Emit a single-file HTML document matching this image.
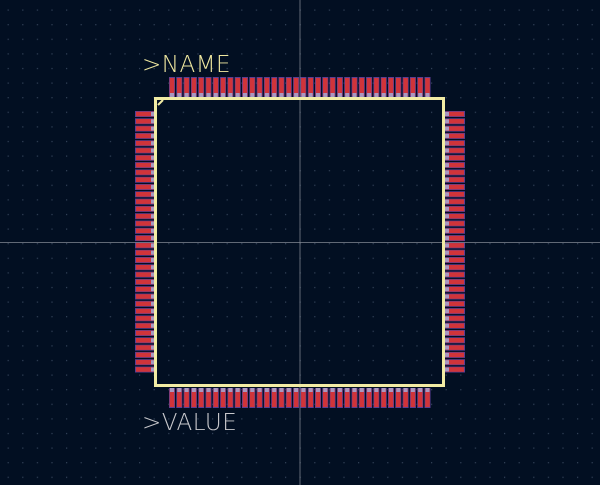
<!DOCTYPE html>
<html><head><meta charset="utf-8"><style>
html,body{margin:0;padding:0;background:#020f22;}
svg{display:block;}
</style></head><body>
<svg id="fp" width="600" height="485" viewBox="0 0 600 485" xmlns="http://www.w3.org/2000/svg">
<defs>
<pattern id="grid" x="-7" y="9.5" width="14.6" height="14.6" patternUnits="userSpaceOnUse">
<rect x="0" y="0" width="1.2" height="1.2" fill="#34435a"/>
</pattern>
</defs>
<rect width="600" height="485" fill="#020f22"/>
<rect width="600" height="485" fill="url(#grid)"/>
<g id="pads"></g>
<line x1="300" y1="0" x2="300" y2="485" stroke="#8a909a" stroke-width="1" opacity="0.7"/>
<line x1="0" y1="242.5" x2="600" y2="242.5" stroke="#8a909a" stroke-width="1" opacity="0.7"/>
<rect x="155.5" y="98.5" width="288" height="287" fill="none" stroke="#f2eca4" stroke-width="3"/>
<path d="M158 105 L163 100" stroke="#f2eca4" stroke-width="2"/>
<text x="142" y="72" font-family="'DejaVu Sans','Liberation Sans',sans-serif" font-size="23" font-weight="200" fill="#f0e8a0" letter-spacing="0.5">&gt;NAME</text>
<text x="142" y="430" font-family="'DejaVu Sans','Liberation Sans',sans-serif" font-size="23" font-weight="200" fill="#c8c8cc" letter-spacing="0.5">&gt;VALUE</text>
</svg>
<script>
const pads = [
  {side:'top', count:36, start:169, pitch:7.3, a:77, b:97},
  {side:'bottom', count:36, start:169, pitch:7.3, a:388, b:408},
  {side:'left', count:36, start:111, pitch:7.3, a:135, b:155},
  {side:'right', count:36, start:111, pitch:7.3, a:445, b:465}
];
const NS='http://www.w3.org/2000/svg';
const g=document.getElementById('pads');
function r(x,y,w,h,f){const e=document.createElementNS(NS,'rect');e.setAttribute('x',x);e.setAttribute('y',y);e.setAttribute('width',w);e.setAttribute('height',h);e.setAttribute('fill',f);return e;}
pads.forEach(p=>{
  for(let i=0;i<p.count;i++){
    const c=p.start+i*p.pitch;
    const len=p.b-p.a;
    const grp=document.createElementNS(NS,'g');
    
    
    if(p.side==='top'||p.side==='bottom'){
      grp.appendChild(r(c,p.a,6,len,'#5b3e93'));
      grp.appendChild(r(c+0.7,p.a+1,4.6,len-2,'#d0343a'));
      const ty=p.side==='top'?p.b-4:p.a;
      grp.appendChild(r(c+1,ty,4,4,'#a898c0'));
    } else {
      grp.appendChild(r(p.a,c,len,6,'#5b3e93'));
      grp.appendChild(r(p.a+1,c+0.7,len-2,4.6,'#d0343a'));
      const tx=p.side==='left'?p.b-4:p.a;
      grp.appendChild(r(tx,c+1,4,4,'#a898c0'));
    }
    g.appendChild(grp);
  }
});
</script>
</body></html>
